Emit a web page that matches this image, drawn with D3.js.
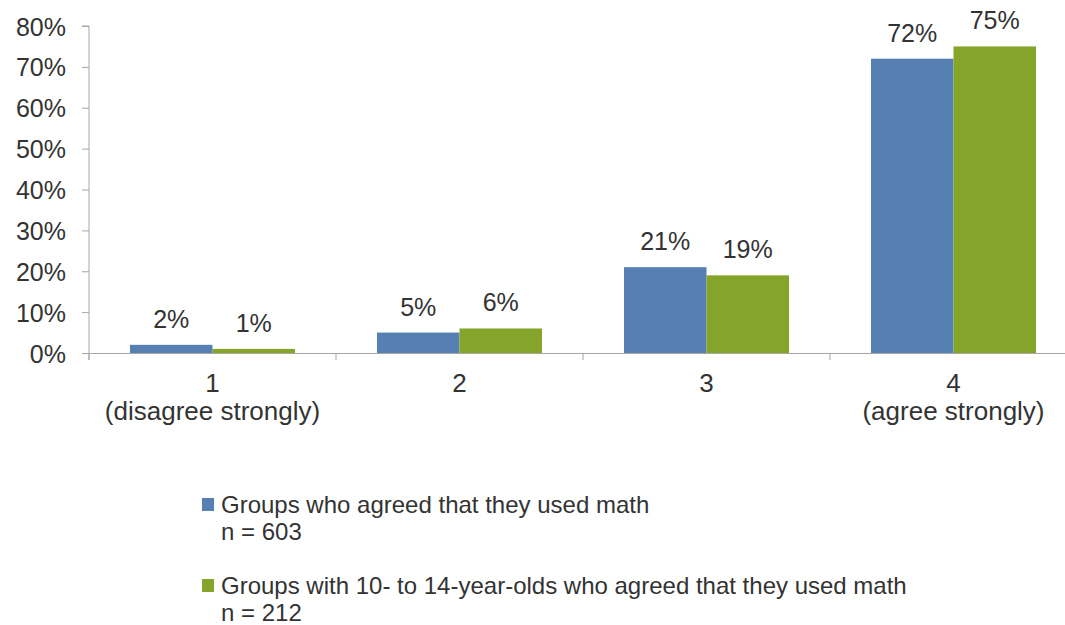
<!DOCTYPE html>
<html>
<head>
<meta charset="utf-8">
<script src="https://cdn.jsdelivr.net/npm/d3@7"></script>
<style>
  html, body { margin: 0; padding: 0; background: #fff; }
  svg { display: block; font-family: "Liberation Sans", Arial, sans-serif; }
</style>
</head>
<body>
<svg id="chart" width="1065" height="625"></svg>
<script>
// Survey response categories (1 = disagree strongly ... 4 = agree strongly)
const categories = ["1", "2", "3", "4"];
const categorySubLabels = ["(disagree strongly)", "", "", "(agree strongly)"];

// Share of groups choosing each response, in percent
const seriesNames = ["Groups who agreed that they used math", "Groups with 10- to 14-year-olds who agreed that they used math"];
const seriesN = ["n = 603", "n = 212"];
const allGroups = [2, 5, 21, 72];
const groups10to14 = [1, 6, 19, 75];
const seriesValues = [allGroups, groups10to14];
const seriesColors = ["#5580b1", "#84a52a"];

const yTicks = [0, 10, 20, 30, 40, 50, 60, 70, 80];

const svg = d3.select("#chart");
const textColor = "#333333";
const axisColor = "#a6a6a6";

const plotLeft = 89, plotRight = 1077, plotTop = 26, plotBottom = 353;

const x = d3.scaleBand().domain(categories).range([plotLeft, plotRight]).paddingInner(0).paddingOuter(0);
const groupPad = 0.166;
const xs = d3.scaleBand().domain(d3.range(seriesValues.length))
  .range([x.bandwidth() * groupPad, x.bandwidth() * (1 - groupPad)]);
const y = d3.scaleLinear().domain([0, 80]).range([plotBottom, plotTop]);

// Y axis
const yAxis = svg.append("g").attr("transform", `translate(${plotLeft},0)`)
  .call(d3.axisLeft(y).tickValues(yTicks).tickSize(7).tickFormat(d => d + "%"));
yAxis.select(".domain").attr("stroke", axisColor).attr("d", `M-7,${plotTop}H0V${plotBottom + 7}`);
yAxis.selectAll(".tick line").attr("stroke", axisColor);
yAxis.selectAll(".tick text").attr("fill", textColor).attr("font-size", 25)
  .attr("x", -23).attr("dy", "0.36em")
  .attr("font-family", "Liberation Sans, Arial, sans-serif");

// Bars
const groups = svg.append("g").selectAll("g").data(categories).join("g")
  .attr("transform", d => `translate(${x(d)},0)`);

seriesValues.forEach((vals, si) => {
  groups.append("rect")
    .attr("x", xs(si))
    .attr("width", xs.bandwidth())
    .attr("y", (d, i) => y(vals[i]))
    .attr("height", (d, i) => y(0) - y(vals[i]))
    .attr("fill", seriesColors[si]);
  groups.append("text")
    .attr("x", xs(si) + xs.bandwidth() / 2)
    .attr("y", (d, i) => y(vals[i]) - 17)
    .attr("text-anchor", "middle")
    .attr("font-size", 25)
    .attr("fill", textColor)
    .text((d, i) => vals[i] + "%");
});

// X axis
const xAxis = svg.append("g").attr("transform", `translate(0,${plotBottom})`)
  .call(d3.axisBottom(x).tickSize(0).tickFormat(""));
xAxis.select(".domain").attr("stroke", axisColor);
xAxis.selectAll(".tick").remove();
xAxis.selectAll(".sep").data(d3.range(categories.length + 1)).join("line")
  .attr("class", "sep")
  .attr("x1", i => plotLeft + i * x.step()).attr("x2", i => plotLeft + i * x.step())
  .attr("y1", 0).attr("y2", 7)
  .attr("stroke", axisColor);

const xl = svg.append("g");
xl.selectAll("text.cat").data(categories).join("text")
  .attr("class", "cat")
  .attr("x", d => x(d) + x.bandwidth() / 2)
  .attr("y", 392)
  .attr("text-anchor", "middle").attr("font-size", 26).attr("fill", textColor)
  .text(d => d);
xl.selectAll("text.sub").data(categories).join("text")
  .attr("class", "sub")
  .attr("x", d => x(d) + x.bandwidth() / 2)
  .attr("y", 420)
  .attr("text-anchor", "middle").attr("font-size", 26).attr("fill", textColor)
  .text((d, i) => categorySubLabels[i]);

// Legend
const legend = svg.append("g").attr("transform", "translate(202,498)");
const entry = legend.selectAll("g").data(seriesNames).join("g")
  .attr("transform", (d, i) => `translate(0,${i * 81})`);
entry.append("rect").attr("width", 12).attr("height", 13)
  .attr("fill", (d, i) => seriesColors[i]);
entry.append("text").attr("x", 19).attr("y", 15)
  .attr("font-size", 24).attr("fill", textColor).text(d => d);
entry.append("text").attr("x", 19).attr("y", 42)
  .attr("font-size", 24).attr("fill", textColor).text((d, i) => seriesN[i]);
</script>
</body>
</html>
